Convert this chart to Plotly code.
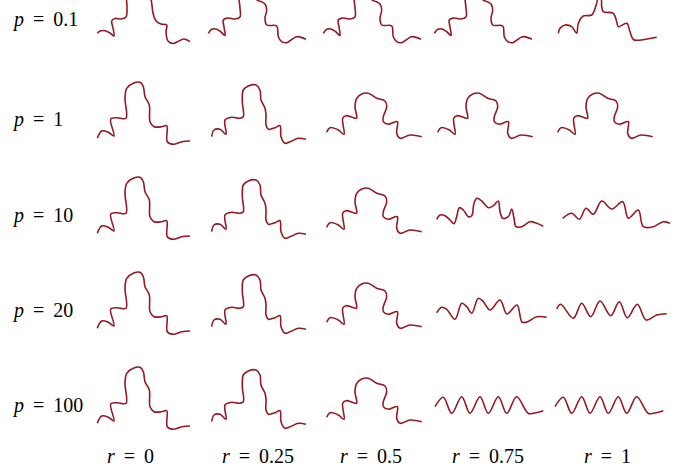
import plotly.graph_objects as go

# ---- labels ----
p_values = ["0.1", "1", "10", "20", "100"]
r_values = ["0", "0.25", "0.5", "0.75", "1"]

# ---- curve shapes (local units: x right, y up) ----
A_x = [2.3, 5, 10, 15, 19, 18, 16.7, 20, 26, 31, 32, 31.5, 33, 38, 45, 52, 55, 56.7, 58, 61, 66, 71.7, 71, 73, 78, 84, 89, 95]
A_y = [10.7, 13, 13.3, 11, 8, 16, 23, 25.5, 25, 27, 36, 47, 58, 65, 66, 60, 50, 41, 31, 23, 20, 19, 12, 3, 0.5, 3, 5, 2.3]

A25_x = [-0.7, 2.7, 7, 12, 16, 15, 14.3, 19, 26, 31, 31, 30, 32, 38, 44, 48, 46, 48, 53, 56, 57.7, 56, 57.7, 67.7, 69.3, 72.7, 77.7, 87.7, 97]
A25_y = [10.7, 14.7, 15, 12, 8.5, 17, 24, 26, 25, 27, 36, 47, 56, 62, 62, 55, 48, 44, 42, 40, 34, 25.7, 19, 18, 7.3, 2.3, 1.3, 7.3, 4.7]

A1_x = [3.3, 5, 10, 16.7, 21.7, 23.3, 28.3, 36.7, 41.7, 43, 46, 46.7, 48.3, 58.3, 61.7, 63.3, 71.7, 75, 78.3, 84, 92, 101.7]
A1_y = [10.7, 15.7, 19, 17.3, 10.7, 20.7, 28, 29, 40.7, 45, 45, 37.3, 32.3, 30.7, 22.3, 17.3, 20.7, 12.3, 4.5, 3.8, 5, 6.7]

B_x = [2.3, 6.7, 13.3, 19, 15.7, 21.7, 31, 30, 31.7, 38.3, 45, 48.3, 50, 54.3, 55, 59, 66.7, 71.7, 72.3, 78.3, 86.7, 95]
B_y = [6.7, 14, 12.7, 9, 26, 27.3, 26.7, 46.7, 56.7, 61.7, 62.7, 58.3, 48.3, 40, 23.3, 18.3, 18.3, 19.3, 3.3, 0.7, 3.3, 4]

B25_x = [2.7, 5, 11, 17, 16, 22.7, 30.3, 34.3, 33.3, 34.3, 39.3, 47, 51, 52, 56, 57, 57, 59.3, 66, 71, 72, 76, 82.7, 89.3, 97]
B25_y = [8.3, 15, 15.7, 10.7, 25, 27.7, 26.7, 28.3, 43.3, 55, 59, 60, 55, 45, 36.7, 30, 20, 15.7, 17.3, 19.3, 8.3, 1.7, 4, 6.7, 5.7]

C_x = [2.7, 6, 14.3, 20, 18.7, 22, 29.3, 32.7, 31, 32.7, 37.7, 44.3, 52.7, 61, 62.7, 59.3, 59.3, 64.3, 73.3, 72.7, 76, 86, 97.7]
C_y = [12.7, 17.3, 15, 10.7, 26.7, 29.3, 27.3, 26.7, 38.3, 46.7, 51, 51.7, 46.7, 44, 38.3, 28.3, 23.3, 20.7, 23.3, 11.7, 6.7, 10, 8.3]

D_x = [1.7, 5, 10, 15, 19, 21.7, 24.3, 28.3, 33.3, 36.7, 39, 41.7, 46.7, 53.3, 58.3, 63.3, 65, 67.7, 73.3, 76.7, 79, 81, 86.7, 95, 101.7, 108.3]
D_y = [20.7, 25, 24.3, 20, 16.3, 23.3, 32.3, 30, 23.3, 24.3, 36.7, 41.7, 39, 32.3, 34.3, 39, 28.3, 21.7, 23.3, 31, 21.7, 13.3, 13.3, 18.3, 16.7, 13.7]

D1_x = [7.7, 16.7, 24.3, 31, 38.3, 46.7, 56.7, 67.7, 73.3, 83.3, 88.3, 98.3, 108.3, 115]
D1_y = [21.7, 26.7, 20.7, 31.7, 25.7, 39, 31, 38.3, 21.7, 30, 13.3, 13.3, 18.3, 16.7]

E_x = [1.7, 6.7, 11.7, 20, 26.7, 31.7, 36.7, 43.3, 48.3, 55, 65, 72, 82, 87, 92, 101.7, 111.7]
E_y = [22.3, 27.7, 25.7, 15.7, 31.7, 28.3, 21.7, 36.7, 33.3, 25, 35, 21, 30, 13, 13, 18.3, 17.7]

E1_x = [1.7, 5.7, 18.3, 26.7, 35.7, 45, 55.7, 64.3, 72.3, 82.3, 91, 101.7, 111.7]
E1_y = [26, 30.7, 16.7, 31.7, 18.3, 34, 19.3, 33.3, 17.3, 30.7, 15, 20, 21.3]

F_x = [0, 8.3, 16.7, 26.7, 35, 45, 53.3, 63.3, 71.7, 81.7, 93, 98.3, 108.3]
F_y = [23.3, 32.7, 16.7, 33.3, 16.7, 33.3, 16.7, 33.3, 16.7, 33.3, 16.7, 16.7, 19.3]

shapes = {
    "A": (A_x, A_y), "A25": (A25_x, A25_y), "A1": (A1_x, A1_y),
    "B": (B_x, B_y), "B25": (B25_x, B25_y), "C": (C_x, C_y),
    "D": (D_x, D_y), "D1": (D1_x, D1_y), "E": (E_x, E_y),
    "E1": (E1_x, E1_y), "F": (F_x, F_y),
}
grid = [
    ["A", "A25", "A25", "A25", "A1"],
    ["B", "B25", "C", "C", "C"],
    ["B", "B25", "C", "D", "D1"],
    ["B", "B25", "C", "E", "E1"],
    ["B", "B25", "C", "F", "F"],
]

# ---- layout geometry (pixels) ----
W, H = 694, 471
col_left = [95, 209, 324, 435, 555]
row_base = [44, 145, 240, 335, 430]
label_y = [20, 120, 215, 310, 405]
col_center = [130, 258, 371, 488, 607]

LINE = "#931a20"
fig = go.Figure()
layout = {}
k = 0
for i in range(5):
    top = max(0, row_base[i] - 75)
    bot = row_base[i] + 8
    for j in range(5):
        k += 1
        xs, ys = shapes[grid[i][j]]
        xa = "x" if k == 1 else f"x{k}"
        ya = "y" if k == 1 else f"y{k}"
        fig.add_trace(go.Scatter(x=xs, y=ys, mode="lines", xaxis=xa, yaxis=ya,
                                 line=dict(color=LINE, width=1.6, shape="spline", smoothing=1.0),
                                 hoverinfo="skip", showlegend=False))
        left = col_left[j] - 5
        right = col_left[j] + 118
        xkey = "xaxis" if k == 1 else f"xaxis{k}"
        ykey = "yaxis" if k == 1 else f"yaxis{k}"
        layout[xkey] = dict(domain=[left / W, right / W], range=[-5, 118], visible=False,
                            anchor=ya, fixedrange=True)
        layout[ykey] = dict(domain=[1 - bot / H, 1 - top / H], range=[row_base[i] - bot, row_base[i] - top],
                            visible=False, anchor=xa, fixedrange=True)

FONT = dict(family="Liberation Serif", size=20, color="black")
SP = " \u2009"
annotations = []
for i, p in enumerate(p_values):
    annotations.append(dict(text=f"<i>p</i>{SP}={SP}{p}", x=10 / W, y=1 - label_y[i] / H, xref="paper", yref="paper",
                            xanchor="left", yanchor="middle", showarrow=False, font=FONT))
for j, r in enumerate(r_values):
    annotations.append(dict(text=f"<i>r</i>{SP}={SP}{r}", x=col_center[j] / W, y=1 - 456 / H, xref="paper", yref="paper",
                            xanchor="center", yanchor="middle", showarrow=False, font=FONT))

fig.update_layout(width=W, height=H, margin=dict(l=0, r=0, t=0, b=0),
                  paper_bgcolor="white", plot_bgcolor="rgba(0,0,0,0)",
                  annotations=annotations, **layout)
fig.write_html("out.html", config={"displayModeBar": False, "staticPlot": True},
               post_script="document.body.style.margin='0';document.body.style.overflow='hidden';")
